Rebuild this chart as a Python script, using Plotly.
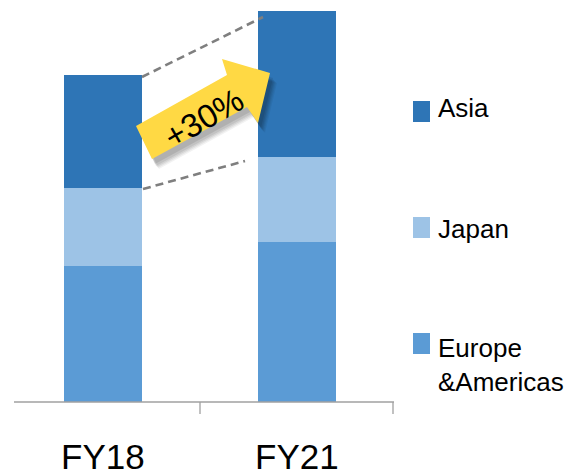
import plotly.graph_objects as go

# Regional sales composition, FY18 vs FY21
years = ["FY18", "FY21"]
europe_americas = [136, 160]
japan = [78, 85]
asia = [113, 146]

series_names = ["Europe<br>&Americas", "Japan", "Asia"]
series_values = [europe_americas, japan, asia]
series_colors = ["#5B9BD5", "#9DC3E6", "#2E75B6"]
growth_label = "+30%"

W, H = 566, 476
FONT = "Liberation Sans, Arial, sans-serif"


def px(x):
    return x / W


def py(y):
    return 1 - y / H


fig = go.Figure()
for name, vals, col in zip(series_names, series_values, series_colors):
    fig.add_trace(go.Bar(
        x=[0, 1], y=vals, name=name, marker_color=col,
        marker_line_width=0, width=0.4, showlegend=False,
    ))

shapes = []
# baseline axis with boundary ticks
shapes.append(dict(type="line", xref="paper", yref="paper",
                   x0=px(14), x1=px(394), y0=py(402), y1=py(402),
                   line=dict(color="#A0A0A0", width=1.3), layer="above"))
for tx in (200, 393):
    shapes.append(dict(type="line", xref="paper", yref="paper",
                       x0=px(tx), x1=px(tx), y0=py(402), y1=py(414),
                       line=dict(color="#A0A0A0", width=1.3), layer="above"))

# dashed guide lines between the bars
for (x0, y0, x1, y1) in [(142, 77, 263, 17), (143, 189, 245, 161)]:
    shapes.append(dict(type="line", xref="paper", yref="paper",
                       x0=px(x0), y0=py(y0), x1=px(x1), y1=py(y1),
                       line=dict(color="#7F7F7F", width=2.6, dash="8px,5px"),
                       layer="above"))

# growth arrow with a soft drop shadow
arrow_pts = [(136, 126), (227, 75), (222, 59), (270, 73),
             (258, 123), (247, 107), (152, 159)]


def poly(pts, dx=0, dy=0):
    return "M " + " L ".join(f"{px(x + dx):.5f},{py(y + dy):.5f}" for x, y in pts) + " Z"


for dx, dy, a in [(7, 10, 0.05), (6, 9, 0.06), (5, 8, 0.07), (4, 7, 0.08), (3, 5, 0.09)]:
    shapes.append(dict(type="path", xref="paper", yref="paper", path=poly(arrow_pts, dx, dy),
                       fillcolor=f"rgba(0,0,0,{a})", line=dict(width=0), layer="above"))
shapes.append(dict(type="path", xref="paper", yref="paper", path=poly(arrow_pts),
                   fillcolor="#FFD944", line=dict(width=0), layer="above"))

annotations = [
    dict(text=growth_label, x=px(203), y=py(118), xref="paper", yref="paper",
         xanchor="center", yanchor="middle",
         showarrow=False, textangle=-30, font=dict(family=FONT, size=33, color="black")),
]

# category labels
for i, yr in enumerate(years):
    annotations.append(dict(text=yr, x=i, y=py(456), xref="x", yref="paper",
                            showarrow=False, xanchor="center", yanchor="middle",
                            font=dict(family=FONT, size=35, color="black")))

# legend: squares and labels
legend_rows = [("Asia", "#2E75B6", 101, 108.5),
               ("Japan", "#9DC3E6", 217, 229),
               ("Europe<br>&Americas", "#5B9BD5", 333, 365)]
for label, col, top, mid in legend_rows:
    shapes.append(dict(type="rect", xref="paper", yref="paper",
                       x0=px(413), x1=px(430), y0=py(top), y1=py(top + 21),
                       fillcolor=col, line=dict(width=0)))
    annotations.append(dict(text=label, x=px(436), y=py(mid), xref="paper", yref="paper",
                            showarrow=False, xanchor="left", yanchor="middle", align="left",
                            font=dict(family=FONT, size=26, color="black")))

fig.update_layout(
    width=W, height=H,
    margin=dict(l=0, r=0, t=0, b=0),
    paper_bgcolor="white", plot_bgcolor="white",
    barmode="stack", bargap=0,
    xaxis=dict(domain=[px(5.5), px(393.5)], range=[-0.5, 1.5], showgrid=False,
               zeroline=False, showline=False, showticklabels=False, ticks=""),
    yaxis=dict(domain=[py(402), 1], range=[0, 402], showgrid=False,
               zeroline=False, showline=False, showticklabels=False, ticks=""),
    shapes=shapes, annotations=annotations,
)

fig.write_html("out.html")
